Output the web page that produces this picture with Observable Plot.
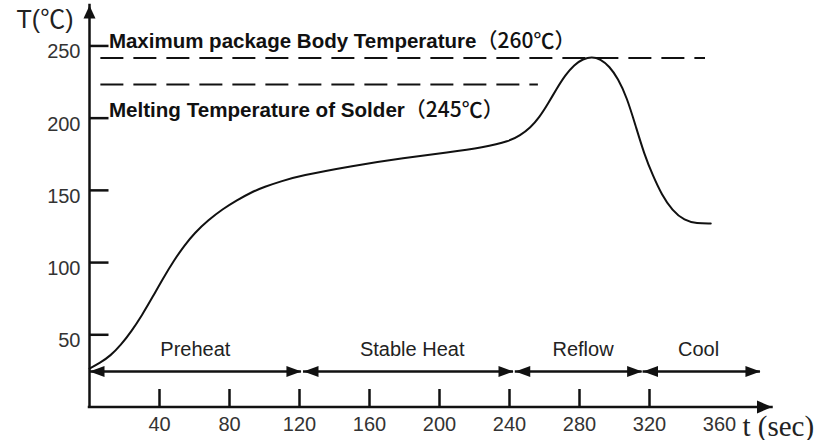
<!DOCTYPE html>
<html><head><meta charset="utf-8">
<script src="https://cdn.jsdelivr.net/npm/d3@7"></script>
<script src="https://cdn.jsdelivr.net/npm/@observablehq/plot@0.6"></script>
<style>body{margin:0;background:#fff;} #chart svg{display:block}</style>
</head><body><div id="chart"></div>
<script>
// Reflow profile curve (time in s, temperature in °C)
const curveTime = [0, 6, 12, 18, 24, 30, 36, 42, 48, 54, 60, 68, 76, 84, 92, 100, 110, 120, 150, 180, 205, 225, 240, 246, 252, 257, 262, 267, 272, 277, 282, 287, 292, 297, 302, 307, 312, 317, 322, 327, 333, 340, 347, 355];
const curveTemp = [26.6, 30.5, 35.5, 43, 52.5, 63.5, 76, 89, 101, 111.5, 120.5, 129.5, 137, 143, 148.4, 152.5, 156.5, 160, 167, 172.5, 176.3, 179.8, 184, 188, 193.5, 200.5, 210, 220.5, 230, 237, 241, 242.6, 241, 236, 227.5, 214.5, 195, 175, 160, 147, 136, 129, 127, 127];

const yTicks = [50, 100, 150, 200, 250];
const xTickLabels = [40, 80, 120, 160, 200, 240, 280, 320, 360];
const xTickMarks = [40, 80, 120, 160, 200, 240, 280, 320];

const limitLabels = ["Maximum package Body Temperature（260℃）", "Melting Temperature of Solder（245℃）"];
const limitLevels = [241.7, 223.3];
const limitStarts = [6.5, 6.5];
const limitEnds = [352, 256.5];

const phaseNames = ["Preheat", "Stable Heat", "Reflow", "Cool"];
const phaseStarts = [0, 122.3, 243.3, 316.3];
const phaseEnds = [121.1, 242.3, 315.8, 383.4];
const phaseLabelTimes = [60.5, 184.4, 282, 348];
const phaseArrowTemp = 24.6;
const phaseLabelTemp = 40;

const xDomain = [0, 390];
const yDomain = [0, 278];
const xAxisTitle = "t (sec)";
const yAxisTitle = "T(℃)";

const curve = curveTime.map((t, i) => ({t, T: curveTemp[i]}));
const limits = limitLabels.map((label, i) => ({label, level: limitLevels[i], start: limitStarts[i], end: limitEnds[i]}));
const phases = phaseNames.map((name, i) => ({name, start: phaseStarts[i], end: phaseEnds[i], labelT: phaseLabelTimes[i]}));

const arrowHead = (len, half) => ({draw(ctx) { ctx.moveTo(0, 0); ctx.lineTo(half, len); ctx.lineTo(-half, len); ctx.closePath(); }});
const tickRight = (len) => ({draw(ctx) { ctx.moveTo(0, 0); ctx.lineTo(len, 0); }});
const tickUp = (len) => ({draw(ctx) { ctx.moveTo(0, 0); ctx.lineTo(0, -len); }});

const ink = "#111";
const sans = "'Liberation Sans', Arial, 'Noto Sans CJK SC', sans-serif";

const chart = Plot.plot({
  width: 820, height: 440,
  marginLeft: 89, marginRight: 48.5, marginTop: 5, marginBottom: 33.5,
  style: {fontFamily: sans, fontSize: "20px", background: "#fff", color: ink, overflow: "visible"},
  x: {domain: xDomain},
  y: {domain: yDomain},
  marks: [
    Plot.ruleY(limits, {y: "level", x1: "start", x2: "end", stroke: ink, strokeWidth: 2, strokeDasharray: "23,10"}),
    Plot.text([limits[0]], {x: "start", y: "level", text: "label", textAnchor: "start", lineAnchor: "bottom", dx: 8, dy: -10, fontWeight: "bold", fontSize: 20.5, fontFamily: sans, fill: ink}),
    Plot.text([limits[1]], {x: "start", y: "level", text: "label", textAnchor: "start", lineAnchor: "bottom", dx: 8, dy: 32, fontWeight: "bold", fontSize: 20.6, fontFamily: sans, fill: ink}),
    Plot.line(curve, {x: "t", y: "T", curve: "basis", stroke: ink, strokeWidth: 2}),
    Plot.ruleY(phases, {y: phaseArrowTemp, x1: "start", x2: "end", stroke: ink, strokeWidth: 2.5}),
    Plot.dot(phases, {x: "start", y: phaseArrowTemp, symbol: arrowHead(15, 5.5), rotate: -90, fill: ink, stroke: "none", r: 4}),
    Plot.dot(phases, {x: "end", y: phaseArrowTemp, symbol: arrowHead(15, 5.5), rotate: 90, fill: ink, stroke: "none", r: 4}),
    Plot.text(phases, {x: "labelT", y: phaseLabelTemp, text: "name", fontSize: 20, fill: "#222"}),
    // axes
    Plot.ruleX([0], {x: 0, y1: yDomain[0], y2: yDomain[1], stroke: ink, strokeWidth: 2.5, strokeLinecap: "square"}),
    Plot.ruleY([0], {y: 0, x1: xDomain[0], x2: xDomain[1], stroke: ink, strokeWidth: 2.5, strokeLinecap: "square"}),
    Plot.dot([0], {x: 0, y: yDomain[1], symbol: arrowHead(13, 6), rotate: 0, fill: ink, stroke: "none", r: 4}),
    Plot.dot([0], {x: xDomain[1], y: 0, symbol: arrowHead(15, 6.5), rotate: 90, fill: ink, stroke: "none", r: 4}),
    Plot.dot(yTicks, {x: 0, y: d => d, symbol: tickRight(19), stroke: ink, strokeWidth: 2.5, fill: "none", r: 4}),
    Plot.dot(xTickMarks, {x: d => d, y: 0, symbol: tickUp(18), stroke: ink, strokeWidth: 2.5, fill: "none", r: 4}),
    Plot.axisY({ticks: yTicks, tickSize: 0, tickPadding: 9, dy: 6, fontSize: 20, color: "#333", label: null}),
    Plot.axisX({ticks: xTickLabels, tickSize: 0, tickPadding: 10, fontSize: 20, color: "#333", label: null}),
    Plot.text([yAxisTitle], {frameAnchor: "top-left", text: d => d, textAnchor: "end", lineAnchor: "bottom", dx: -16, dy: 22, fontSize: 25, fill: "#222"}),
    Plot.text([xAxisTitle], {frameAnchor: "bottom-right", text: d => d, textAnchor: "start", lineAnchor: "bottom", dx: -29.5, dy: 28.5, fontSize: 29, fontFamily: "'Liberation Serif', 'Times New Roman', serif", fill: "#222"})
  ]
});

d3.select(chart).selectAll("text").each(function() {
  const s = this.textContent;
  const i = s.indexOf("（");
  if (i < 0 || this.querySelector("tspan")) return;
  this.textContent = "";
  d3.select(this).append("tspan").text(s.slice(0, i));
  d3.select(this).append("tspan").attr("font-weight", "500").attr("font-size", "21").attr("font-family", "'Noto Sans CJK SC', sans-serif").text(s.slice(i));
});

document.getElementById("chart").appendChild(chart);
</script>
</body></html>
